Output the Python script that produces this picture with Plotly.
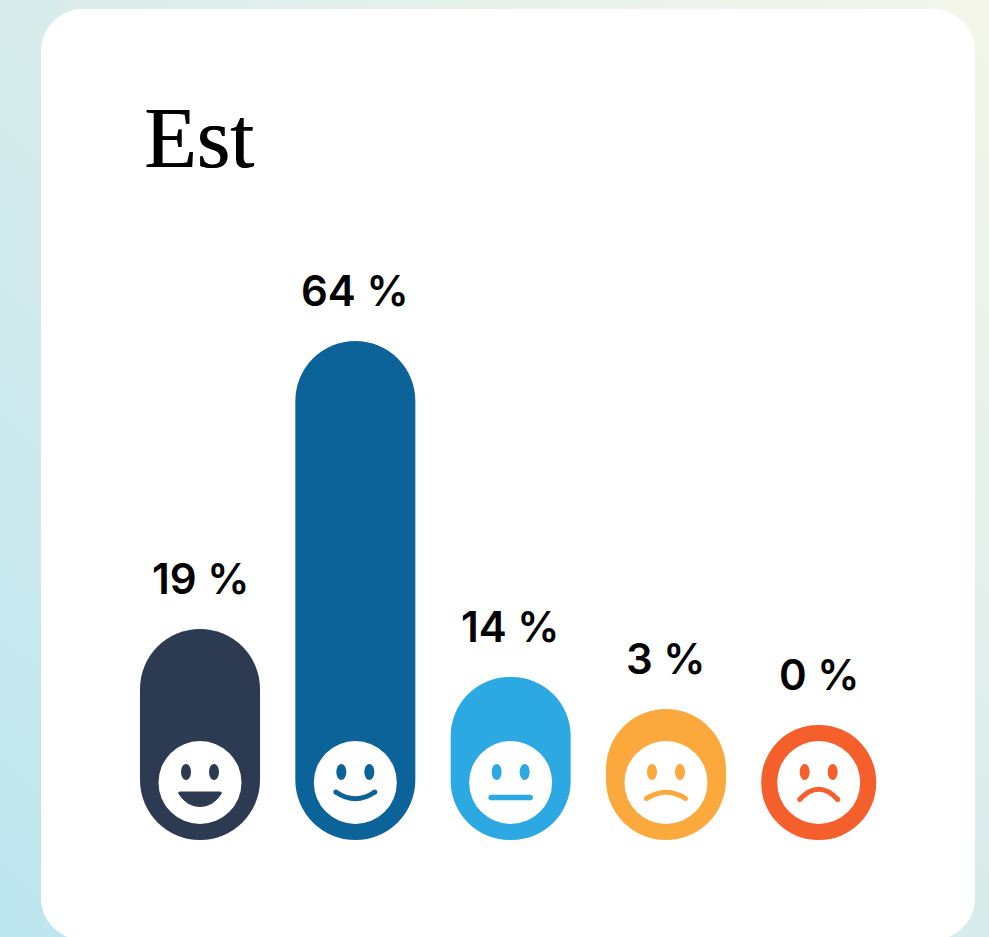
import base64
import plotly.graph_objects as go

# ---- data ----
title_text = "Est"
percentages = [19, 64, 14, 3, 0]
bar_heights = [211, 499, 163, 131, 115]      # drawn length of each pill
slots = [0, 1, 2, 3, 3.983]
faces = ["grin", "smile", "flat", "frown", "sad"]
colors = ["#2C3A52", "#0C6399", "#2CA8E2", "#FBA93C", "#F55F2B"]

# ---- layout constants ----
W, H = 989, 937
SLOT_PX = 155.33
X0_PX, Y0_PX = 200, 840
bar_w_px = [120, 120, 120, 120, 115]
FACE_CY = 57.5      # face centre above the baseline

fig = go.Figure()

# pills: a bar with an explicit base gets both ends rounded
fig.add_trace(go.Bar(
    x=slots, y=bar_heights, base=[0] * len(slots),
    width=[w / SLOT_PX for w in bar_w_px],
    marker=dict(color=colors, cornerradius="50%", line=dict(width=0)),
    hoverinfo="skip", showlegend=False,
))


def px_shape(slot, **kw):
    return dict(xref="x", yref="y", xsizemode="pixel", ysizemode="pixel",
                xanchor=slot, yanchor=FACE_CY, **kw)


def oval(slot, cx, cy, rx, ry, color):
    return px_shape(slot, type="circle", x0=cx - rx, x1=cx + rx, y0=cy - ry, y1=cy + ry,
                    fillcolor=color, line=dict(width=0), layer="above")


def curve(slot, half, y_end, y_ctrl, sw, color):
    path = f"M{-half},{y_end} Q0,{y_ctrl} {half},{y_end}"
    out = [px_shape(slot, type="path", path=path, line=dict(color=color, width=sw),
                    fillcolor="rgba(0,0,0,0)", layer="above")]
    r = sw / 2
    out += [oval(slot, -half, y_end, r, r, color), oval(slot, half, y_end, r, r, color)]
    return out


def card_path(l, t, r, b, rad):
    k = rad * 0.448   # distance of the control points from the corner for a circular arc
    X = lambda v: v / W
    Y = lambda v: 1 - v / H
    return (
        f"M{X(l)},{Y(t + rad)} C{X(l)},{Y(t + k)} {X(l + k)},{Y(t)} {X(l + rad)},{Y(t)} "
        f"L{X(r - rad)},{Y(t)} C{X(r - k)},{Y(t)} {X(r)},{Y(t + k)} {X(r)},{Y(t + rad)} "
        f"L{X(r)},{Y(b - rad)} C{X(r)},{Y(b - k)} {X(r - k)},{Y(b)} {X(r - rad)},{Y(b)} "
        f"L{X(l + rad)},{Y(b)} C{X(l + k)},{Y(b)} {X(l)},{Y(b - k)} {X(l)},{Y(b - rad)} Z"
    )


mouths = {
    "smile": dict(half=19.5, y_end=-9.5, y_ctrl=-23, sw=5),
    "flat": dict(half=19.5, y_end=-15, y_ctrl=-15, sw=5.5),
    "frown": dict(half=19.5, y_end=-16, y_ctrl=-3.5, sw=5),
    "sad": dict(half=19, y_end=-17, y_ctrl=3.5, sw=5),
}

shapes = [
    dict(type="path", xref="paper", yref="paper", layer="below", fillcolor="white",
         line=dict(width=0), path=card_path(41, 9, 975, 940, 42))
]
for slot, face, color in zip(slots, faces, colors):
    shapes.append(oval(slot, 0, 0, 41.5, 41.5, "white"))
    for dx in (-14, 14):
        shapes.append(oval(slot, dx, 10.5, 5, 8, color))
    if face == "grin":
        shapes.append(px_shape(
            slot, type="path", fillcolor=color, line=dict(color=color, width=1), layer="above",
            path="M-20,-9.5 L20,-9.5 Q22,-9.5 21,-11.5 Q13,-24 0,-24 Q-13,-24 -21,-11.5 Q-22,-9.5 -20,-9.5 Z"))
    else:
        shapes += curve(slot, color=color, **mouths[face])

annotations = [
    dict(x=s, y=h, xref="x", yref="y", text=f"{p} %", showarrow=False,
         xanchor="center", yanchor="middle", yshift=51,
         font=dict(family="Inter", size=42, color="#000000", weight=600))
    for s, h, p in zip(slots, bar_heights, percentages)
]

gradient = f'''<svg xmlns="http://www.w3.org/2000/svg" width="{W}" height="{H}">
<defs><linearGradient id="g" x1="0" y1="1" x2="1" y2="0">
<stop offset="0" stop-color="#BCE5EE"/><stop offset="0.5" stop-color="#D8ECEC"/>
<stop offset="1" stop-color="#F4F6E9"/></linearGradient></defs>
<rect width="{W}" height="{H}" fill="url(#g)"/></svg>'''
bg = "data:image/svg+xml;base64," + base64.b64encode(gradient.encode()).decode()

fig.update_layout(
    width=W, height=H, margin=dict(l=0, r=0, t=0, b=0), autosize=False,
    paper_bgcolor="white", plot_bgcolor="rgba(0,0,0,0)", barmode="overlay",
    title=dict(text=title_text, x=144 / W, xanchor="left", xref="container",
               y=1 - 137 / H, yanchor="middle", yref="container",
               font=dict(family="Liberation Serif", size=86, color="#000000",
                         shadow="0.8px 0 0 #000000")),
    xaxis=dict(range=[-X0_PX / SLOT_PX, (W - X0_PX) / SLOT_PX], visible=False, fixedrange=True),
    yaxis=dict(range=[Y0_PX - H, Y0_PX], visible=False, fixedrange=True),
    images=[dict(source=bg, xref="paper", yref="paper", x=0, y=1, sizex=1, sizey=1,
                 sizing="stretch", xanchor="left", yanchor="top", layer="below")],
    shapes=shapes, annotations=annotations, showlegend=False,
)
fig.write_html("out.html", config=dict(displayModeBar=False),
               post_script="document.body.style.margin='0';document.documentElement.style.overflow='hidden';")
